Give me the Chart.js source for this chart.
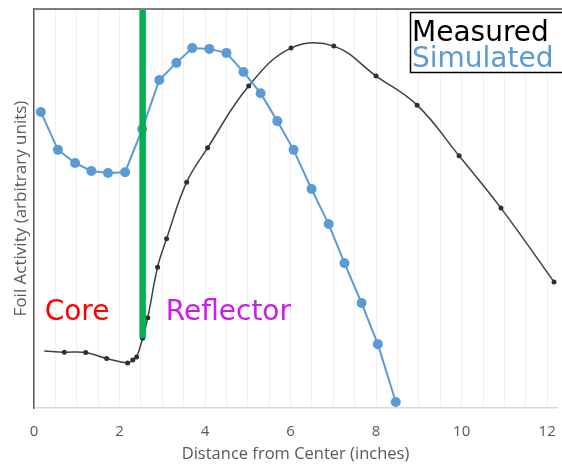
<!DOCTYPE html>
<html>
<head>
<meta charset="utf-8">
<script src="https://cdn.jsdelivr.net/npm/chart.js@4.4.0/dist/chart.umd.min.js"></script>
<style>
  html, body { margin: 0; padding: 0; background: #fff; }
  #wrap { width: 562px; height: 466px; position: relative; }
</style>
</head>
<body>
<div id="wrap"><canvas id="foilChart"></canvas></div>
<script>
// Foil activity vs distance from core centre: measured (smoothed) and simulated.
// Y values are arbitrary units (0-100 across the plot height).

const measuredX = [0.24, 0.71, 1.21, 1.70, 2.19, 2.31, 2.40, 2.54, 2.66, 2.89, 3.10, 3.57, 4.06, 5.02, 6.01, 7.01, 8.00, 8.96, 9.94, 10.92, 12.16];
const measuredY = [14.3, 14.0, 13.9, 12.4, 11.3, 12.0, 12.8, 17.5, 22.6, 35.3, 42.4, 56.6, 65.2, 80.7, 90.2, 90.7, 83.2, 75.9, 63.2, 50.1, 31.6];

const simulatedX = [0.16, 0.56, 0.96, 1.34, 1.73, 2.13, 2.53, 2.93, 3.33, 3.70, 4.10, 4.50, 4.90, 5.30, 5.69, 6.07, 6.49, 6.89, 7.26, 7.66, 8.04, 8.46];
const simulatedY = [74.2, 64.7, 61.4, 59.4, 58.9, 59.1, 69.9, 82.2, 86.5, 90.2, 90.0, 89.0, 84.2, 78.9, 71.9, 64.7, 54.9, 46.1, 36.3, 26.3, 16.0, 1.5];

// core / reflector boundary marker
const boundaryX = [2.54, 2.54];
const boundaryY = [17.5, 100];

const xTickLabels = [0, 2, 4, 6, 8, 10, 12];

const GRAY = '#595959';

const toPoints = (xs, ys) => xs.map((x, i) => ({ x, y: ys[i] }));

// Top frame line, region labels and the boxed legend
const decorations = {
  id: 'decorations',
  afterDatasetsDraw(chart) {
    const { ctx, chartArea, scales } = chart;
    ctx.save();

    ctx.strokeStyle = '#7f7f7f';
    ctx.lineWidth = 2;
    ctx.beginPath();
    ctx.moveTo(chartArea.left, chartArea.top);
    ctx.lineTo(chart.width, chartArea.top);
    ctx.stroke();

    ctx.font = '28px "DejaVu Sans"';
    ctx.textBaseline = 'alphabetic';
    ctx.textAlign = 'left';
    ctx.fillStyle = '#ff0000';
    ctx.fillText('Core', scales.x.getPixelForValue(0.25), scales.y.getPixelForValue(22));
    ctx.fillStyle = '#c81ee8';
    ctx.fillText('Reflector', scales.x.getPixelForValue(3.08), scales.y.getPixelForValue(22));

    // legend box
    ctx.fillStyle = '#ffffff';
    ctx.fillRect(410, 12, 160, 60);
    ctx.strokeStyle = '#000000';
    ctx.lineWidth = 1.5;
    ctx.strokeRect(410.5, 12.5, 160, 60);
    ctx.fillStyle = '#000000';
    ctx.fillText('Measured', 412, 41);
    ctx.fillStyle = '#5b9bd5';
    ctx.fillText('Simulated', 412, 67);

    ctx.restore();
  }
};

const ctx = document.getElementById('foilChart').getContext('2d');
new Chart(ctx, {
  type: 'line',
  data: {
    datasets: [
      {
        label: 'Measured',
        data: toPoints(measuredX, measuredY),
        borderColor: '#404040',
        backgroundColor: '#303030',
        borderWidth: 1.5,
        tension: 0.4,
        pointRadius: c => c.dataIndex === 0 ? 0 : 2.5,
        pointBorderWidth: 0,
        order: 3
      },
      {
        label: 'Simulated',
        data: toPoints(simulatedX, simulatedY),
        borderColor: '#5b9bd5',
        backgroundColor: '#5b9bd5',
        borderWidth: 2,
        tension: 0,
        pointRadius: 5,
        pointBorderWidth: 0,
        order: 2
      },
      {
        label: 'Boundary',
        data: toPoints(boundaryX, boundaryY),
        borderColor: '#00b050',
        borderWidth: 6.5,
        borderCapStyle: 'butt',
        pointRadius: 0,
        order: 1
      }
    ]
  },
  options: {
    responsive: true,
    maintainAspectRatio: false,
    animation: false,
    layout: { padding: { top: 9, right: 0, left: 0, bottom: 0 } },
    plugins: {
      legend: { display: false },
      tooltip: { enabled: false }
    },
    scales: {
      x: {
        type: 'linear',
        min: 0,
        max: 12.23,
        afterFit: s => { s.height = 58; s.paddingRight = 0; s.paddingLeft = 0; },
        border: { display: true, color: '#d9d9d9', width: 1.5 },
        grid: { color: '#f0f0f0', lineWidth: 1, drawTicks: false },
        ticks: {
          stepSize: 0.5,
          includeBounds: false,
          autoSkip: false,
          maxRotation: 0,
          padding: 15,
          color: GRAY,
          font: { family: '"Open Sans"', size: 15 },
          callback: v => xTickLabels.includes(v) ? String(v) : ''
        },
        title: {
          display: true,
          text: 'Distance from Center (inches)',
          color: GRAY,
          font: { family: '"Open Sans"', size: 16.5 },
          padding: { top: 0, bottom: 2 }
        }
      },
      y: {
        min: 0,
        max: 100,
        afterFit: s => { s.width = 34; },
        border: { display: true, color: GRAY, width: 1.5 },
        grid: { display: false },
        ticks: { display: false },
        title: {
          display: true,
          text: 'Foil Activity (arbitrary units)',
          color: GRAY,
          font: { family: '"Open Sans"', size: 17 },
          padding: { top: 11, bottom: 0 }
        }
      }
    }
  },
  plugins: [decorations]
});
</script>
</body>
</html>
